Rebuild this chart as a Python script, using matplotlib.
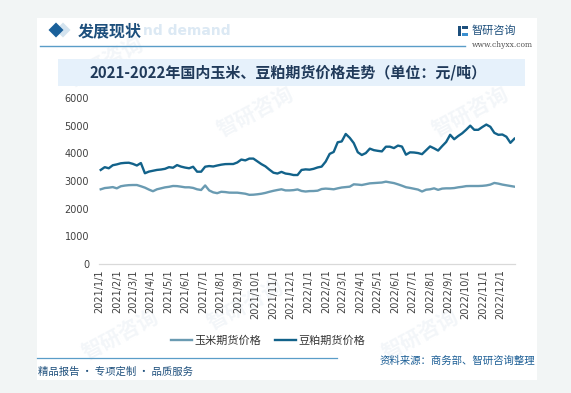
import matplotlib
matplotlib.use("Agg")
import matplotlib.pyplot as plt
from matplotlib.patches import Rectangle, Polygon
from matplotlib.lines import Line2D
import pandas as pd

plt.rcParams['font.family'] = ['Noto Sans CJK SC', 'DejaVu Sans']

# ---------------- data (weekly) ----------------
dates = pd.date_range("2021-01-04", periods=104, freq="7D")

soymeal = [3400, 3500, 3460, 3570, 3600, 3640, 3655, 3660, 3620, 3560,
           3650, 3280, 3340, 3370, 3400, 3415, 3440, 3500, 3480, 3575,
           3520, 3485, 3460, 3515, 3336, 3336, 3517, 3540, 3525, 3560,
           3590, 3610, 3614, 3614, 3670, 3775, 3745, 3810, 3810, 3710,
           3610, 3530, 3410, 3300, 3270, 3330, 3270, 3250, 3216, 3216,
           3400, 3420, 3410, 3440, 3490, 3520, 3700, 3980, 4050, 4400,
           4430, 4700, 4560, 4370, 4040, 3940, 4010, 4170, 4115, 4090,
           4070, 4240, 4240, 4190, 4280, 4245, 3950, 4036, 4030, 4010,
           3970, 4110, 4250, 4180, 4100, 4260, 4410, 4670, 4510, 4626,
           4725, 4855, 5000, 4850, 4850, 4950, 5040, 4960, 4740, 4670,
           4680, 4600, 4380, 4530]

corn = [2700, 2745, 2760, 2780, 2735, 2810, 2835, 2850, 2855, 2855,
        2810, 2760, 2690, 2630, 2700, 2735, 2770, 2790, 2820, 2815,
        2795, 2772, 2772, 2750, 2700, 2675, 2840, 2660, 2590, 2560,
        2610, 2600, 2580, 2578, 2578, 2560, 2540, 2500, 2505, 2520,
        2540, 2570, 2610, 2645, 2675, 2700, 2660, 2660, 2670, 2695,
        2640, 2620, 2635, 2638, 2650, 2710, 2725, 2715, 2700, 2735,
        2765, 2780, 2795, 2880, 2870, 2855, 2885, 2915, 2925, 2935,
        2945, 2976, 2950, 2925, 2880, 2830, 2775, 2750, 2720, 2690,
        2620, 2685, 2700, 2735, 2680, 2725, 2735, 2735, 2745, 2772,
        2790, 2815, 2819, 2819, 2819, 2825, 2840, 2870, 2930, 2905,
        2870, 2845, 2820, 2795]

series_names = ["玉米期货价格", "豆粕期货价格"]
y_ticks = [0, 1000, 2000, 3000, 4000, 5000, 6000]
tick_dates = pd.date_range("2021-01-01", "2022-12-01", freq="MS")
tick_labels = [f"{d.year}/{d.month}/{d.day}" for d in tick_dates]

title = "2021-2022年国内玉米、豆粕期货价格走势（单位：元/吨）"
source = "资料来源：商务部、智研咨询整理"
slogan = "精品报告 · 专项定制 · 品质服务"

# ---------------- layout helpers ----------------
W, H = 571, 393
def fx(x): return x / W
def fy(y): return 1 - y / H

fig = plt.figure(figsize=(5.71, 3.93), dpi=100, facecolor="#f2f5f5")

def rect(x0, y0, x1, y1, color, z=0):
    fig.patches.append(Rectangle((fx(x0), fy(y1)), (x1 - x0) / W, (y1 - y0) / H,
                                 transform=fig.transFigure, facecolor=color,
                                 edgecolor="none", zorder=z))

# white panel
rect(37, 18, 537, 380, "white", 0)

# faint watermarks
for (wx, wy) in [(105, 62), (255, 112), (245, 305), (470, 112), (420, 335), (120, 335)]:
    fig.text(fx(wx), fy(wy), "智研咨询", fontsize=15, color="#f3f6f9", rotation=28,
             ha="center", va="center", zorder=0.5, fontweight="bold")

# header diamond(s)
def diamond(cx, cy, r, color, z):
    pts = [(fx(cx - r), fy(cy)), (fx(cx), fy(cy - r)), (fx(cx + r), fy(cy)), (fx(cx), fy(cy + r))]
    fig.patches.append(Polygon(pts, closed=True, transform=fig.transFigure,
                               facecolor=color, edgecolor="none", zorder=z))
diamond(63, 30, 7.5, "#d3e3ef", 1)
diamond(56, 30, 7.5, "#1a609a", 1.1)

fig.text(fx(143), fy(31), "nd demand", fontsize=10, color="#dce9f4", fontweight="bold",
         ha="left", va="center", zorder=0.8, family="DejaVu Sans")
fig.text(fx(78), fy(31), "发展现状", fontsize=11.5, color="#1d4f7c", fontweight="bold",
         ha="left", va="center", zorder=2)

# header line
fig.add_artist(Line2D([fx(40), fx(465)], [fy(46), fy(46)], color="#5a9dc8", lw=1.0, zorder=2))

# logo
rect(458, 26, 461, 36, "#1d4f7c", 2)
rect(462, 26, 468, 29, "#1d4f7c", 2)
rect(462, 33, 468, 36, "#3a8fd0", 2)
fig.text(fx(472), fy(31), "智研咨询", fontsize=8, color="#1d4f7c", ha="left", va="center", zorder=2)
fig.text(fx(472), fy(45), "www.chyxx.com", fontsize=5.5, color="#555555", ha="left", va="center",
         family="DejaVu Serif", zorder=2)

# title box
rect(58, 59, 525, 86, "#e6f1fb", 1)
fig.text(fx(288), fy(73), title, fontsize=10.8, color="#203a5a", fontweight="bold",
         ha="center", va="center", zorder=2)

# ---------------- chart ----------------
ax = fig.add_axes([fx(99), fy(264), (515 - 99) / W, (264 - 98) / H], zorder=1)
ax.set_facecolor("none")
c_corn = "#6a9bb2"
c_soy = "#12628a"
l1, = ax.plot(dates, corn, color=c_corn, lw=1.7, label=series_names[0], solid_joinstyle="round")
l2, = ax.plot(dates, soymeal, color=c_soy, lw=1.7, label=series_names[1], solid_joinstyle="round")

ax.set_ylim(0, 6000)
ax.set_yticks(y_ticks)
ax.set_yticklabels([str(v) for v in y_ticks], family="DejaVu Sans")
ax.set_xlim(pd.Timestamp("2021-01-01"), pd.Timestamp("2022-12-27"))
ax.set_xticks(tick_dates)
ax.set_xticklabels(tick_labels, rotation=90, family="DejaVu Sans")
for s in ["top", "right", "left"]:
    ax.spines[s].set_visible(False)
ax.spines["bottom"].set_color("#d9d9d9")
ax.spines["bottom"].set_linewidth(0.9)
ax.tick_params(axis="both", length=0, labelsize=7, colors="#404040")
ax.tick_params(axis="y", pad=7)
ax.tick_params(axis="x", pad=4)

fig.legend(handles=[l1, l2], loc="center", bbox_to_anchor=(fx(268), fy(341)), ncol=2,
           frameon=False, fontsize=8, handlelength=1.9, handletextpad=0.2,
           columnspacing=1.3, labelcolor="#333333")

# ---------------- footer ----------------
fig.add_artist(Line2D([fx(37), fx(337)], [fy(358), fy(358)], color="#5a9dc8", lw=0.9, zorder=2))
fig.text(fx(38), fy(372), slogan, fontsize=7.5, color="#1d4f7c", ha="left", va="center", zorder=2)
fig.text(fx(535), fy(361), source, fontsize=7.5, color="#1d5f96", ha="right", va="center", zorder=2)

fig.savefig("out.png", dpi=100, facecolor=fig.get_facecolor())
